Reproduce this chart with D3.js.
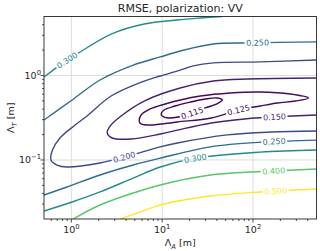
<!DOCTYPE html>
<html>
<head>
<meta charset="utf-8">
<script src="https://cdn.jsdelivr.net/npm/d3@7"></script>
<style>
  body { margin: 0; background: #fff; }
  text { font-family: "DejaVu Sans", sans-serif; }
</style>
</head>
<body>
<script>
// contour levels of the RMSE field
const levels = [0.115, 0.125, 0.150, 0.200, 0.250, 0.300, 0.400, 0.500];

// contour lines, points are [Λ_A, Λ_T] in metres
const rmse115 = [[9.75, 0.350], [10.5, 0.391], [13.9, 0.436], [20.4, 0.485], [29.8, 0.527], [40.5, 0.542],
  [45.9, 0.513], [39.5, 0.460], [29.8, 0.413], [21.4, 0.360], [15.0, 0.323], [11.7, 0.314], [10.0, 0.332]];
const rmse125 = [[5.58, 0.289], [5.87, 0.341], [7.38, 0.402], [10.8, 0.460], [15.8, 0.513], [26.3, 0.572],
  [56.2, 0.621], [120, 0.638], [258, 0.604], [408, 0.542], [293, 0.499], [186, 0.473], [120, 0.436],
  [69.0, 0.391], [34.7, 0.314], [14.7, 0.282], [7.38, 0.259], [5.87, 0.267]];
const rmse150 = [[500, 0.935], [86.7, 0.91], [36.5, 0.86], [15.8, 0.711], [6.34, 0.499], [3.53, 0.332],
  [2.67, 0.252], [2.48, 0.209], [2.81, 0.182], [4.56, 0.177], [9.51, 0.203], [14.7, 0.226], [34.7, 0.274],
  [80.3, 0.306], [172, 0.323], [500, 0.341]];
const rmse200 = [[500, 1.53], [120, 1.45], [36.5, 1.41], [22.0, 1.30], [15.8, 1.16], [9.51, 0.987], [6.34, 0.86],
  [2.74, 0.572], [1.49, 0.332], [1.10, 0.259], [0.75, 0.182], [0.62, 0.131], [0.597, 0.100], [0.695, 0.0871],
  [0.897, 0.0826], [2.07, 0.0921], [3.81, 0.108], [9.51, 0.143], [14.7, 0.159], [52.1, 0.198], [156, 0.214],
  [500, 0.220]];
const rmse250upper = [[0.5, 0.297], [1.02, 0.513], [2.07, 0.885], [4.80, 1.33], [9.51, 1.66], [15.8, 1.95],
  [36.5, 2.36], [86.7, 2.43], [200, 2.47], [500, 2.5]];
const rmse250lower = [[0.5, 0.0385], [0.897, 0.0479], [2.07, 0.0664], [4.80, 0.0871], [9.51, 0.105],
  [33.9, 0.143], [130, 0.163], [500, 0.172]];
const rmse300upper = [[0.5, 0.96], [0.75, 1.33], [1.156, 1.80], [2.74, 3.10], [6.34, 4.08], [14.7, 4.55],
  [26.3, 4.80], [45.9, 5.0]];
const rmse300lower = [[0.5, 0.0249], [1.02, 0.0318], [2.07, 0.0418], [4.80, 0.0611], [9.51, 0.0826],
  [23.1, 0.105], [120, 0.124], [500, 0.131]];
const rmse400 = [[1.045, 0.02], [2.07, 0.0293], [4.80, 0.0406], [9.51, 0.0506], [33.9, 0.0664], [168, 0.0740],
  [500, 0.0781]];
const rmse500 = [[3.44, 0.02], [5.73, 0.0242], [9.51, 0.0293], [33.9, 0.0374], [120, 0.0418], [500, 0.0453]];

// where the inline labels sit, [Λ_A, Λ_T]
const label115 = [[21.4, 0.360]];
const label125 = [[69, 0.391]];
const label150 = [[172, 0.323]];
const label200 = [[3.81, 0.108]];
const label250 = [[112, 2.43], [172, 0.166]];
const label300 = [[0.92, 1.45], [23.1, 0.105]];
const label400 = [[168, 0.074]];
const label500 = [[177, 0.043]];

const xMajor = [1, 10, 100];
const yMajor = [0.1, 1];

const contourLines = [
  {level: 0.300, closed: false, pts: rmse300upper, labels: [label300[0]]},
  {level: 0.250, closed: false, pts: rmse250upper, labels: [label250[0]]},
  {level: 0.200, closed: false, pts: rmse200, labels: label200},
  {level: 0.150, closed: false, pts: rmse150, labels: label150},
  {level: 0.125, closed: true, pts: rmse125, labels: label125},
  {level: 0.115, closed: true, pts: rmse115, labels: label115},
  {level: 0.250, closed: false, pts: rmse250lower, labels: [label250[1]]},
  {level: 0.300, closed: false, pts: rmse300lower, labels: [label300[1]]},
  {level: 0.400, closed: false, pts: rmse400, labels: label400},
  {level: 0.500, closed: false, pts: rmse500, labels: label500}
];

const W = 320, H = 251;
const plotLeft = 44, plotRight = 316.5, plotTop = 16.5, plotBottom = 219;

const x = d3.scaleLog().domain([0.5, 500]).range([plotLeft, plotRight]);
const y = d3.scaleLog().domain([0.02, 5]).range([plotBottom, plotTop]);
const color = d3.scaleSequential(d3.interpolateViridis).domain(d3.extent(levels));

const svg = d3.select("body").append("svg")
  .attr("width", W)
  .attr("height", H);

const defs = svg.append("defs");
defs.append("clipPath").attr("id", "plotArea")
  .append("rect")
  .attr("x", plotLeft).attr("y", plotTop)
  .attr("width", plotRight - plotLeft).attr("height", plotBottom - plotTop);

// grid
const grid = svg.append("g").attr("stroke", "#dcdcdc").attr("stroke-width", 1);
grid.selectAll("line.gx").data(xMajor).enter().append("line")
  .attr("x1", d => x(d)).attr("x2", d => x(d))
  .attr("y1", plotTop).attr("y2", plotBottom);
grid.selectAll("line.gy").data(yMajor).enter().append("line")
  .attr("y1", d => y(d)).attr("y2", d => y(d))
  .attr("x1", plotLeft).attr("x2", plotRight);

// contours
const lineGen = d3.line()
  .x(d => x(d[0])).y(d => y(d[1]))
  .curve(d3.curveCatmullRom.alpha(0.5));
const closedGen = d3.line()
  .x(d => x(d[0])).y(d => y(d[1]))
  .curve(d3.curveCatmullRomClosed.alpha(0.5));

const linesGroup = svg.append("g").attr("clip-path", "url(#plotArea)");
const labelGroup = svg.append("g");

contourLines.forEach((c, i) => {
  const col = color(c.level);
  const path = linesGroup.append("path")
    .attr("d", (c.closed ? closedGen : lineGen)(c.pts))
    .attr("fill", "none")
    .attr("stroke", col)
    .attr("stroke-width", 1.4);

  const mask = defs.append("mask").attr("id", "m" + i)
    .attr("maskUnits", "userSpaceOnUse")
    .attr("x", 0).attr("y", 0).attr("width", W).attr("height", H);
  mask.append("rect").attr("width", W).attr("height", H).attr("fill", "white");

  const node = path.node();
  const len = node.getTotalLength();

  c.labels.forEach(a => {
    const tx = x(a[0]), ty = y(a[1]);
    // nearest spot on the drawn line
    let best = 0, bestD = Infinity;
    for (let l = 0; l <= len; l += 0.5) {
      const p = node.getPointAtLength(l);
      const d = (p.x - tx) ** 2 + (p.y - ty) ** 2;
      if (d < bestD) { bestD = d; best = l; }
    }
    const pc = node.getPointAtLength(best);
    const p0 = node.getPointAtLength(Math.max(0, best - 5));
    const p1 = node.getPointAtLength(Math.min(len, best + 5));
    let ang = Math.atan2(p1.y - p0.y, p1.x - p0.x) * 180 / Math.PI;
    if (ang > 90) ang -= 180;
    if (ang < -90) ang += 180;
    const tr = `translate(${pc.x},${pc.y}) rotate(${ang})`;

    const t = labelGroup.append("text")
      .attr("transform", tr)
      .attr("text-anchor", "middle")
      .attr("dy", "0.36em")
      .attr("font-size", 8)
      .attr("fill", col)
      .text(d3.format(".3f")(c.level));
    const w = t.node().getComputedTextLength();
    mask.append("rect")
      .attr("x", -w / 2 - 1.5).attr("y", -4)
      .attr("width", w + 3).attr("height", 8)
      .attr("fill", "black")
      .attr("transform", tr);
  });

  path.attr("mask", `url(#m${i})`);
});

// ticks
const axisColor = "#222";
const xMinor = x.ticks().filter(v => !xMajor.includes(v) && v > 0.5 && v < 500);
const yMinor = y.ticks().filter(v => !yMajor.includes(v) && v > 0.02 && v < 5);

const ticks = svg.append("g").attr("stroke", axisColor).attr("stroke-width", 0.8);
ticks.selectAll("line.xM").data(xMajor).enter().append("line")
  .attr("x1", d => x(d)).attr("x2", d => x(d)).attr("y1", plotBottom).attr("y2", plotBottom + 3.5);
ticks.selectAll("line.xm").data(xMinor).enter().append("line")
  .attr("x1", d => x(d)).attr("x2", d => x(d)).attr("y1", plotBottom).attr("y2", plotBottom + 2);
ticks.selectAll("line.yM").data(yMajor).enter().append("line")
  .attr("y1", d => y(d)).attr("y2", d => y(d)).attr("x1", plotLeft).attr("x2", plotLeft - 3.5);
ticks.selectAll("line.ym").data(yMinor).enter().append("line")
  .attr("y1", d => y(d)).attr("y2", d => y(d)).attr("x1", plotLeft).attr("x2", plotLeft - 2);

// frame
svg.append("rect")
  .attr("x", plotLeft).attr("y", plotTop)
  .attr("width", plotRight - plotLeft).attr("height", plotBottom - plotTop)
  .attr("fill", "none")
  .attr("stroke", axisColor)
  .attr("stroke-width", 0.9);

function powerLabel(sel, v) {
  const e = Math.round(Math.log10(v));
  sel.append("tspan").text("10");
  sel.append("tspan")
    .attr("dy", -4.5)
    .attr("font-size", 6.8)
    .text(e < 0 ? "\u2212" + (-e) : String(e));
}

svg.selectAll("text.xt").data(xMajor).enter().append("text")
  .attr("x", d => x(d))
  .attr("y", plotBottom + 14)
  .attr("text-anchor", "middle")
  .attr("font-size", 9.5)
  .attr("fill", "#262626")
  .each(function (d) { powerLabel(d3.select(this), d); });

svg.selectAll("text.yt").data(yMajor).enter().append("text")
  .attr("x", plotLeft - 3)
  .attr("y", d => y(d) + 3.5)
  .attr("text-anchor", "end")
  .attr("font-size", 9.5)
  .attr("fill", "#262626")
  .each(function (d) { powerLabel(d3.select(this), d); });

// axis labels and title
const xl = svg.append("text")
  .attr("x", (plotLeft + plotRight) / 2).attr("y", 246)
  .attr("text-anchor", "middle")
  .attr("font-size", 9.5)
  .attr("fill", "#262626");
xl.append("tspan").text("\u039b");
xl.append("tspan").attr("dy", 2.5).attr("font-size", 6.8).attr("font-style", "italic").text("A");
xl.append("tspan").attr("dy", -2.5).text(" [m]");

const yl = svg.append("text")
  .attr("transform", `translate(14,${(plotTop + plotBottom) / 2}) rotate(-90)`)
  .attr("text-anchor", "middle")
  .attr("font-size", 9.5)
  .attr("fill", "#262626");
yl.append("tspan").text("\u039b");
yl.append("tspan").attr("dy", 2.5).attr("font-size", 6.8).attr("font-style", "italic").text("T");
yl.append("tspan").attr("dy", -2.5).text(" [m]");

svg.append("text")
  .attr("x", (plotLeft + plotRight) / 2).attr("y", 12)
  .attr("text-anchor", "middle")
  .attr("font-size", 11)
  .attr("fill", "#262626")
  .text("RMSE, polarization: VV");
</script>
</body>
</html>
